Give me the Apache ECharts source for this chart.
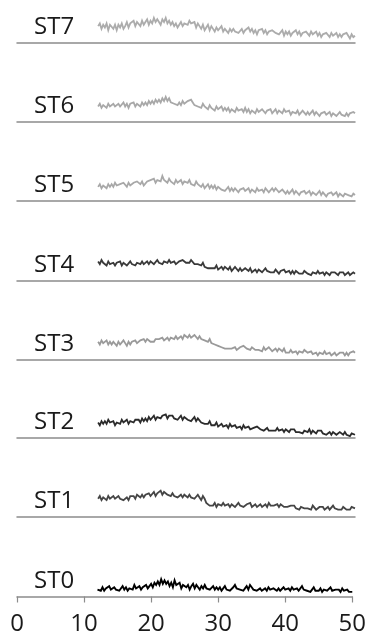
<!DOCTYPE html>
<html><head><meta charset="utf-8">
<script src="https://cdn.jsdelivr.net/npm/echarts@6/dist/echarts.min.js"></script>
<style>html,body{margin:0;padding:0;background:#fff}#c{width:369px;height:639px}</style>
</head><body><div id="c"></div>
<script>
// Sample labels (bottom to top)
const sampleNames = ['ST0','ST1','ST2','ST3','ST4','ST5','ST6','ST7'];
// x-axis tick labels (2θ, degrees)
const xTickLabels = [0, 10, 20, 30, 40, 50];
// scan start and step (degrees 2θ)
const scanStart = 12;
const scanStep = 0.25;

// Intensities (arbitrary units), one value per scan step from 12° to 50°
const ST0 = [6,7,5,8, 5,7,6,9, 6,5,8,6, 7,5,6,9, 6,8,5,7, 8,6,10,7, 7,9,6,8, 8,10,7,9, 11,8,12,10, 13,10,15,11,
  14,11,13,9, 12,8,14,10, 9,12,7,10, 11,8,10,6, 9,11,7,10, 8,6,9,7, 10,7,8,6, 7,9,6,8, 6,8,5,7, 9,6,7,5,
  6,8,10,7, 8,6,7,5, 7,9,6,10, 8,6,7,5, 6,7,5,6, 7,5,8,6, 5,7,6,5, 7,5,6,8, 6,5,7,5, 8,6,5,7,
  5,6,9,6, 7,5,6,4, 6,8,5,6, 5,7,4,6, 7,5,6,8, 5,4,6,5, 6,4,7,5, 5,6,4,5, 4];
const ST1 = [16,18,15,17, 17,15,18,16, 16,18,16,17, 18,16,17,15, 16,17,15,18, 17,18,16,19, 18,17,19,17, 19,18,20,18, 19,21,18,20, 20,22,19,21,
  21,19,20,18, 20,18,19,17, 18,19,17,19, 18,17,19,17, 18,16,17,19, 17,15,18,16, 13,12,11,12, 11,13,10,12, 12,11,13,11, 11,12,10,12,
  12,10,11,13, 11,12,10,11, 12,11,13,10, 11,12,10,11, 12,10,11,12, 10,13,11,12, 11,10,12,10, 12,11,10,11, 10,9,11,10, 11,9,10,8,
  10,11,9,10, 9,10,8,11, 10,8,9,10, 9,10,8,9, 10,8,9,11, 9,10,8,9, 8,10,9,8, 9,8,10,11, 9];
const ST2 = [14,12,15,13, 15,13,16,14, 13,15,12,14, 15,13,16,14, 14,16,13,15, 15,14,16,15, 16,14,17,15, 17,15,18,16, 17,19,16,18, 18,17,19,18,
  20,17,19,18, 19,17,18,16, 17,19,16,18, 18,16,17,15, 16,18,15,17, 16,14,15,13, 14,13,15,12, 13,12,14,11, 12,13,11,12, 12,10,13,11,
  11,12,10,11, 11,9,12,10, 10,11,9,10, 10,9,11,10, 9,10,8,9, 10,8,9,8, 9,8,10,8, 8,9,7,9, 8,7,9,8, 9,7,8,7,
  8,6,8,7, 7,9,6,8, 7,6,8,7, 8,6,7,5, 6,7,5,7, 7,5,6,7, 6,5,7,5, 6,4,6,5, 5];
const ST3 = [16,14,17,15, 15,17,14,16, 14,16,15,13, 16,14,15,17, 15,13,16,14, 16,15,17,15, 15,17,16,18, 16,18,17,16, 17,16,18,17, 18,17,19,17,
  18,19,17,19, 19,18,20,18, 19,20,18,21, 20,19,21,19, 19,21,20,18, 20,18,19,17, 17,16,18,15, 16,14,15,13, 14,12,13,11, 12,11,10,11,
  11,12,10,11, 12,11,13,12, 11,12,10,12, 12,10,11,10, 11,9,12,10, 10,12,11,9, 10,11,9,11, 10,9,11,8, 9,8,10,8, 8,9,7,9,
  9,8,10,9, 8,7,9,7, 7,8,6,8, 8,7,9,7, 7,8,6,7, 8,6,7,8, 7,8,6,8, 6,8,7,9, 8];
const ST4 = [17,15,18,16, 16,14,17,15, 15,16,14,16, 15,17,14,16, 16,14,15,17, 15,16,14,16, 16,15,17,15, 16,17,15,17, 17,15,16,18, 16,17,15,17,
  17,16,18,16, 16,17,15,16, 17,16,18,17, 16,17,16,18, 17,15,16,15, 15,14,16,13, 14,12,13,12, 13,12,14,11, 12,13,11,13, 12,11,13,10,
  11,13,12,10, 12,10,11,12, 11,10,12,9, 10,11,9,11, 11,9,10,12, 10,11,9,10, 9,11,10,8, 10,9,11,9, 9,10,8,10, 8,10,9,8,
  9,8,10,9, 8,9,7,9, 9,8,10,8, 8,9,7,9, 8,7,9,8, 9,8,7,9, 8,9,7,8, 9,7,8,9, 8];
const ST5 = [13,15,12,14, 14,12,15,13, 15,13,16,14, 13,15,14,16, 15,13,16,14, 14,16,15,17, 16,15,17,14, 15,17,16,18, 17,19,16,18, 19,17,21,18,
  18,16,19,17, 17,15,18,16, 16,18,15,17, 17,16,18,15, 16,14,17,15, 14,13,15,12, 13,15,12,14, 12,14,11,13, 13,11,12,10, 11,13,10,12,
  10,12,11,9, 11,10,12,10, 10,12,9,11, 11,9,12,10, 10,11,9,12, 11,9,10,12, 10,12,11,9, 9,11,10,8, 10,8,9,11, 8,10,9,7,
  9,8,10,8, 8,10,7,9, 9,7,8,10, 7,9,8,6, 8,7,9,7, 7,9,6,8, 8,6,8,7, 7,8,6,8, 7];
const ST6 = [14,16,13,15, 15,13,16,14, 13,16,14,15, 16,14,15,17, 14,16,13,16, 15,17,14,16, 16,14,17,15, 17,15,18,16, 18,16,19,17, 19,17,20,18,
  21,18,20,17, 18,16,17,15, 17,15,18,16, 16,18,17,19, 17,15,16,14, 15,13,16,14, 14,12,15,13, 13,11,14,12, 12,14,11,13, 11,13,10,12,
  12,10,13,11, 11,12,10,13, 10,12,9,11, 11,9,12,10, 10,12,11,9, 11,10,12,9, 10,12,9,11, 11,9,12,10, 9,11,8,10, 10,9,11,8,
  9,11,10,8, 10,8,9,11, 8,10,9,7, 9,8,10,8, 8,10,7,9, 9,7,8,10, 8,9,7,9, 7,9,8,10, 9];
const ST7 = [15,17,13,16, 14,17,12,16, 15,13,16,12, 16,14,17,13, 15,18,14,17, 16,19,15,18, 17,15,19,16, 18,20,16,19, 17,21,18,20, 19,16,20,18,
  21,17,19,16, 18,15,17,14, 16,18,15,17, 18,16,19,17, 16,18,14,17, 15,13,16,12, 14,16,12,15, 13,11,14,12, 13,15,11,13, 12,10,13,11,
  13,11,12,10, 11,13,10,12, 12,14,11,13, 10,12,9,12, 11,13,10,12, 9,11,10,12, 12,10,11,9, 10,12,8,11, 9,11,8,10, 10,12,9,11,
  8,10,9,11, 10,8,11,9, 9,11,8,10, 7,9,8,10, 9,7,10,8, 8,10,7,9, 7,9,8,10, 8,6,9,7, 8];

const seriesValues = [ST0, ST1, ST2, ST3, ST4, ST5, ST6, ST7];
const lineColors = ['#000000','#454545','#2b2b2b','#9a9a9a','#3a3a3a','#a8a8a8','#a8a8a8','#acacac'];

// baseline pixel (bottom of each panel), bottom panel first
const baselines = [596.5, 516.5, 437.5, 359.5, 280.5, 200.5, 121.5, 42.5];
const panelH = 30;
const FONT = '"Open Sans", "DejaVu Sans", sans-serif';

const grids = [], xAxes = [], yAxes = [], series = [], graphics = [];
seriesValues.forEach((vals, i) => {
  grids.push({ left: 17, right: 14, top: baselines[i] - panelH, height: panelH, containLabel: false });
  const bottom = i === 0;
  xAxes.push({
    gridIndex: i, type: 'value', min: xTickLabels[0], max: xTickLabels[xTickLabels.length - 1], interval: 10,
    axisLine: { show: true, lineStyle: { color: '#8c8c8c', width: 1.5 } },
    axisTick: { show: bottom, length: 6, lineStyle: { color: '#8c8c8c', width: 1.2 } },
    axisLabel: { show: bottom, fontSize: 24, color: '#1a1a1a', fontFamily: FONT, margin: 16 },
    splitLine: { show: false }
  });
  yAxes.push(bottom
    ? { gridIndex: i, type: 'value', min: 0, max: 26, show: false }
    : { gridIndex: i, type: 'value', min: 3, max: 25, show: false });
  series.push({
    name: sampleNames[i], type: 'line', xAxisIndex: i, yAxisIndex: i,
    data: vals.map((v, k) => [scanStart + k * scanStep, v]),
    showSymbol: false, symbol: 'none', silent: true, animation: false, clip: false,
    lineStyle: { color: lineColors[i], width: i === 0 ? 1.9 : 1.8, join: 'miter' }
  });
  graphics.push({
    type: 'text', left: 34, top: baselines[i] - 27,
    style: { text: sampleNames[i], fontSize: 24, fontFamily: FONT, fill: '#1a1a1a' }
  });
});

const chart = echarts.init(document.getElementById('c'), null, { renderer: 'canvas' });
chart.setOption({
  animation: false,
  backgroundColor: '#ffffff',
  grid: grids, xAxis: xAxes, yAxis: yAxes, series: series, graphic: graphics
});
</script></body></html>
